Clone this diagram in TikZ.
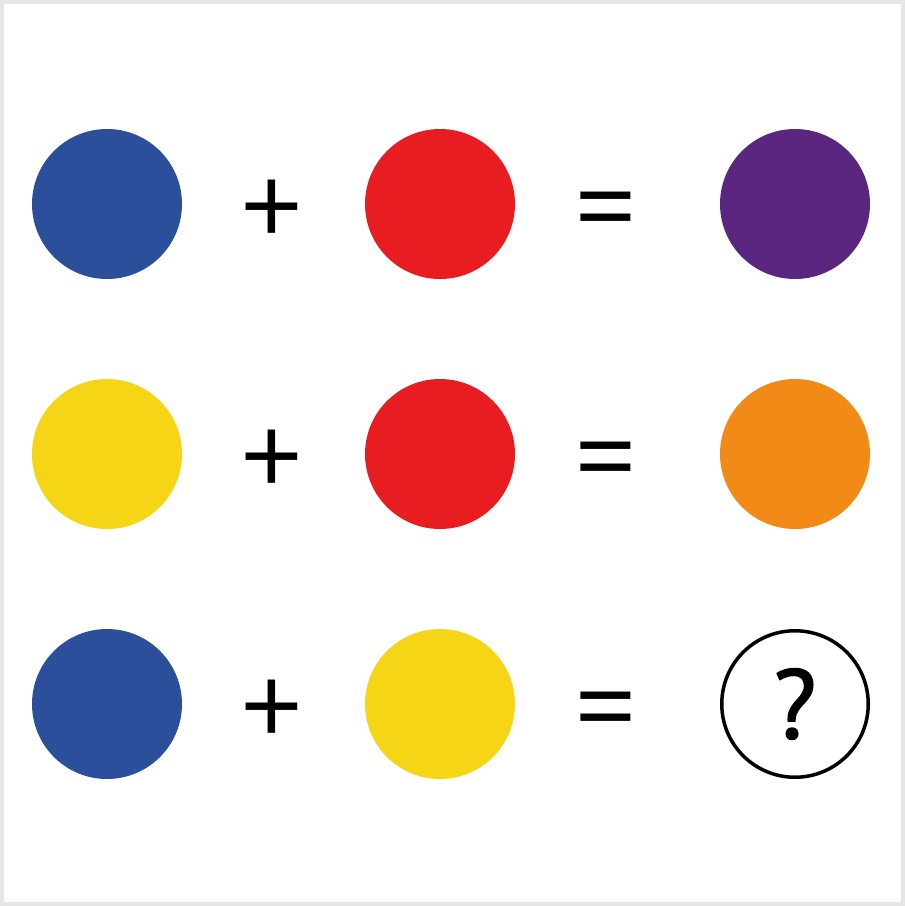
\documentclass[tikz,border=0pt]{standalone}
\usepackage{fontspec}
\setmainfont{Open Sans}
\newfontfamily\askfont[FakeBold=1.6]{PT Sans}
\definecolor{cblue}{HTML}{2B4F9B}
\definecolor{cred}{HTML}{E71D22}
\definecolor{cpurple}{HTML}{5B267F}
\definecolor{cyellow}{HTML}{F5D515}
\definecolor{corange}{HTML}{F18A17}
\definecolor{frame}{HTML}{E6E6E6}
\tikzset{
  dot/.style={circle, minimum size=150pt, inner sep=0pt, draw=none},
  sym/.style={inner sep=0pt, font=\fontsize{110}{110}\selectfont},
  ask/.style={circle, minimum size=146.5pt, inner sep=0pt, draw=black, line width=3.5pt, font=\askfont\fontsize{98}{98}\selectfont}
}
\begin{document}
\begin{tikzpicture}[x=1pt,y=-1pt]
\useasboundingbox (0,0) rectangle (905,906);
\draw[frame, line width=4pt] (2,2) rectangle (903,904);
% row 1
\node[dot, fill=cblue] (b1) at (107,204) {};
\node[sym] (p1) at (271.5,212.5) {+};
\node[dot, fill=cred] (r1) at (440,204) {};
\node[sym] (e1) at (606,219) {=};
\node[dot, fill=cpurple] (u1) at (795,204) {};
% row 2
\node[dot, fill=cyellow] (y2) at (107,454) {};
\node[sym] (p2) at (271.5,462.5) {+};
\node[dot, fill=cred] (r2) at (440,454) {};
\node[sym] (e2) at (606,469) {=};
\node[dot, fill=corange] (o2) at (795,454) {};
% row 3
\node[dot, fill=cblue] (b3) at (107,704) {};
\node[sym] (p3) at (271.5,712.5) {+};
\node[dot, fill=cyellow] (y3) at (440,704) {};
\node[sym] (e3) at (606,719) {=};
\node[ask] (q3) at (795,704) {?};
\end{tikzpicture}
\end{document}
